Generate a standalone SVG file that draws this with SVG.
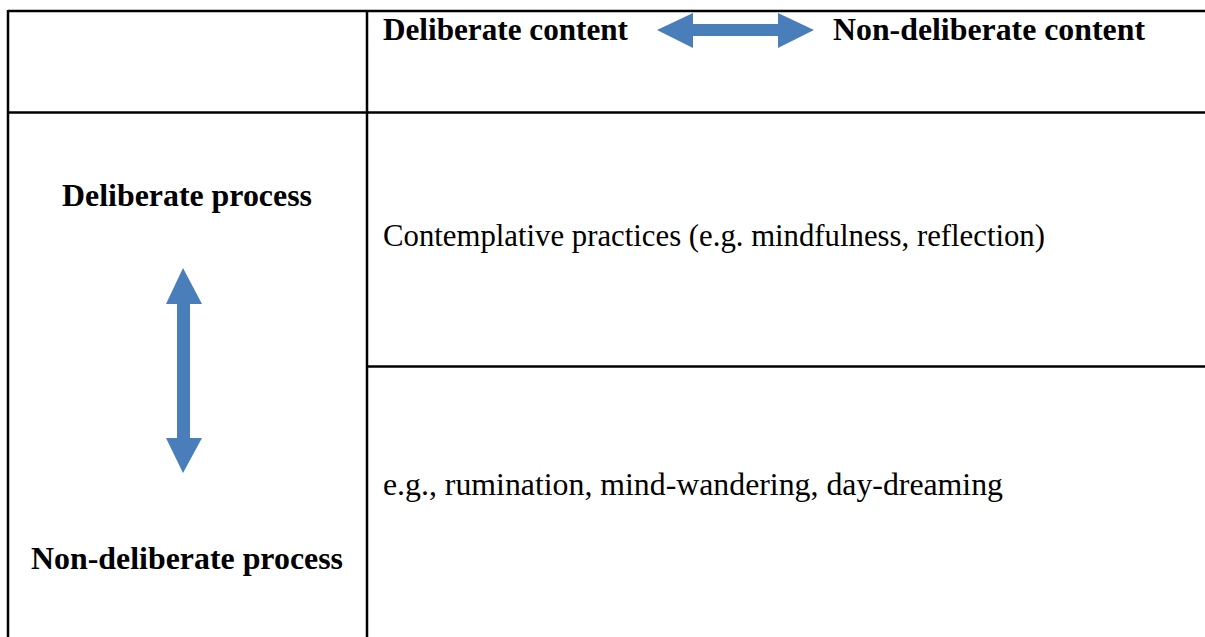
<svg xmlns="http://www.w3.org/2000/svg" width="1205" height="637" viewBox="0 0 1205 637">
<style>
.grid{stroke:#000;stroke-width:2.5;fill:none}
.b{font-family:"Liberation Serif","Times New Roman",serif;font-weight:bold;font-size:30.5px;fill:#000}
.r{font-family:"Liberation Serif","Times New Roman",serif;font-size:30.5px;fill:#000}
.arr{fill:#4a7ebb}
</style>
<rect width="1205" height="637" fill="#fff"/>
<g id="table">
<line class="grid" x1="8" y1="11" x2="1205" y2="11"/>
<line class="grid" x1="8" y1="112.5" x2="1205" y2="112.5"/>
<line class="grid" x1="367" y1="366.5" x2="1205" y2="366.5"/>
<line class="grid" x1="8" y1="10" x2="8" y2="637"/>
<line class="grid" x1="367" y1="10" x2="367" y2="637"/>
</g>
<g id="header-deliberate-content"><text class="b" x="383" y="40" textLength="245" lengthAdjust="spacingAndGlyphs">Deliberate content</text></g>
<g id="header-nondeliberate-content"><text class="b" x="833" y="40" textLength="312" lengthAdjust="spacingAndGlyphs">Non-deliberate content</text></g>
<g id="deliberate-process"><text class="b" x="62" y="206" textLength="250" lengthAdjust="spacingAndGlyphs">Deliberate process</text></g>
<g id="nondeliberate-process"><text class="b" x="31" y="569" textLength="312" lengthAdjust="spacingAndGlyphs">Non-deliberate process</text></g>
<g id="contemplative"><text class="r" x="383" y="246" textLength="662" lengthAdjust="spacingAndGlyphs">Contemplative practices (e.g. mindfulness, reflection)</text></g>
<g id="rumination"><text class="r" x="383" y="495" textLength="620" lengthAdjust="spacingAndGlyphs">e.g., rumination, mind-wandering, day-dreaming</text></g>
<g id="connectors">
<polygon class="arr" points="657,30 693,13 693,24 778,24 778,13 814,30 778,48 778,36 693,36 693,48"/>
<polygon class="arr" points="183,268 202,304 190,304 190,438 202,438 183,473 166,438 177,438 177,304 166,304"/>
</g>
</svg>
